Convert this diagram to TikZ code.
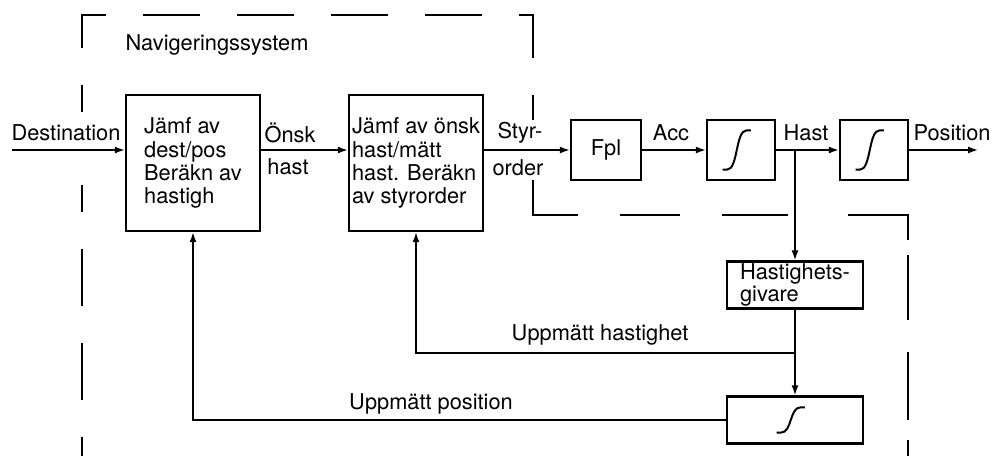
\documentclass[tikz,border=0pt]{standalone}
\usepackage{fontspec}
\setmainfont{TeX Gyre Heros}
\usetikzlibrary{arrows.meta, positioning, calc}

\begin{document}
\begin{tikzpicture}[
  x=0.025cm, y=-0.025cm,
  >={Latex[length=7pt, width=5pt]},
  every node/.style={font=\fontsize{15.5}{16.5}\selectfont},
  bigblock/.style  ={draw, line width=1.8pt, align=left, inner sep=0pt,
                     minimum width=3.35cm, minimum height=3.4cm},
  smallblock/.style={draw, line width=1.8pt, inner sep=0pt,
                     minimum width=1.75cm, minimum height=1.5cm},
  wideblock/.style ={draw, line width=1.8pt, align=left, inner sep=0pt,
                     minimum width=3.4cm, minimum height=1.175cm,
                     font=\fontsize{15.5}{13}\selectfont},
  arr/.style={->, line width=1.1pt},
  scurve/.style={line width=1.4pt},
  border/.style={line width=1.3pt, dash pattern=on 40.5pt off 26.3pt, dash phase=21pt},
  bordseg/.style={line width=1.3pt},
]
\useasboundingbox (0,0) rectangle (994,456);

%% ── Navigeringssystem boundary ─────────────────────────────────────────────
\draw[border] (82,112) -- (82,15) -- (533,15) -- (533,120);
\draw[border] (82,185) -- (82,456);
\draw[bordseg] (533,180) -- (533,215) -- (578,215);
\foreach \xa/\xb in {620/680, 722/788}
  \draw[bordseg] (\xa,215) -- (\xb,215);
\draw[bordseg] (848,215) -- (908,215) -- (908,240);
\foreach \ya/\yb in {255/320, 352/420, 440/456}
  \draw[bordseg] (908,\ya) -- (908,\yb);
\node (navlbl) at (217,45) {Navigeringssystem};

%% ── Blocks ──────────────────────────────────────────────────────────────────
\node[bigblock] (jamfpos) at (193,163)
  {Jämf av\\dest/pos\\Beräkn av\\hastigh};
\node[bigblock] (jamfhast) at (416,163)
  {Jämf av önsk\\hast/mätt\\hast. Beräkn\\av styrorder};
\node[smallblock] (fpl) at (606,150) {Fpl};
\node[smallblock, minimum width=1.7cm] (intA) at (741,150) {};
\node[smallblock, minimum width=1.7cm] (intB) at (874,150) {};
\node[wideblock] (givare) at (795,285) {Hastighets-\\givare};
\node[wideblock] (intC) at (795,420) {};

%% integrator symbols
\foreach \n/\h in {intA/14, intB/14, intC/9}
  \draw[scurve] ($(\n.center)+(-13pt,{-\h*1pt})$) -- ++(3pt,0)
    .. controls +(8pt,0) and +(-8pt,0) .. ++(14pt,{2*\h*1pt}) -- ++(3pt,0);

%% ── Signal labels ───────────────────────────────────────────────────────────
\node (destlbl) at (66,133)  {Destination};
\node (onsk)    at (290,133) {Önsk};
\node (onskh)   at (288,167) {hast};
\node (styr)    at (520,133) {Styr-};
\node (order)   at (518,168) {order};
\node (acc)     at (671,133) {Acc};
\node (hast)    at (806,133) {Hast};
\node (poslbl)  at (952,133) {Position};
\node (uhast)   at (600,335) {Uppmätt hastighet};
\node (upos)    at (431,404) {Uppmätt position};

%% ── Arrows ──────────────────────────────────────────────────────────────────
\coordinate (dest)   at (12,150);
\coordinate (pos)    at (978,150);
\coordinate (hastpt) at (givare.north |- intA);
\coordinate (fbpt)   at (795,353);

\draw[arr] (dest) -- (jamfpos.west |- dest);
\draw[arr] (jamfpos.east |- fpl) -- (jamfhast.west |- fpl);
\draw[arr] (jamfhast.east |- fpl) -- (fpl);
\draw[arr] (fpl) -- (intA);
\draw[arr] (intA) -- (intB);
\draw[arr] (intB) -- (pos);

%% speed sensor and feedback paths
\draw[arr] (hastpt) -- (givare);
\draw[arr] (givare) -- (intC);
\draw[arr] (fbpt) -| (jamfhast.south);
\draw[arr] (intC.west) -| (jamfpos.south);

\end{tikzpicture}
\end{document}
